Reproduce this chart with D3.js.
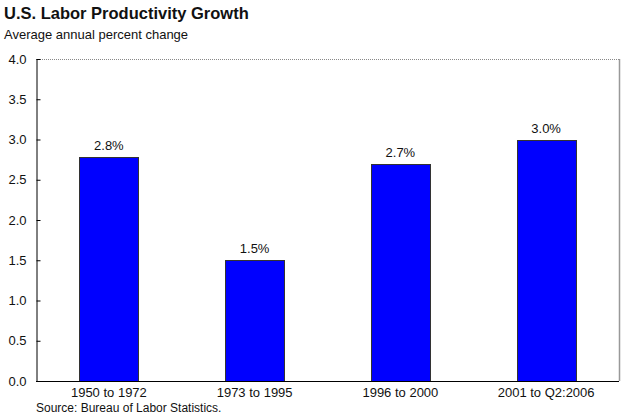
<!DOCTYPE html>
<html>
<head>
<meta charset="utf-8">
<script src="https://cdn.jsdelivr.net/npm/d3@7"></script>
<style>
body{margin:0;background:#fff;}
svg text{font-family:Arial,"Liberation Sans",sans-serif;fill:#111;}
</style>
</head>
<body>
<svg id="c" width="623" height="419"></svg>
<script>
const categories = ["1950 to 1972","1973 to 1995","1996 to 2000","2001 to Q2:2006"];
const values = [2.78, 1.5, 2.7, 3.0];
const valueLabels = ["2.8%","1.5%","2.7%","3.0%"];
const yTicks = [0,0.5,1,1.5,2,2.5,3,3.5,4];

const svg = d3.select("#c");
const L=36, R=619, T=59, B=381;

const x = d3.scaleBand().domain(categories).range([L,R]).paddingInner(0.595).paddingOuter(0.2975);
const y = d3.scaleLinear().domain([0,4]).range([B,T]);

svg.append("text").attr("x",4).attr("y",19).style("font-size","16.5px").style("font-weight","bold").text("U.S. Labor Productivity Growth");
svg.append("text").attr("x",4).attr("y",39).style("font-size","13px").text("Average annual percent change");

// plot border (top dotted, right gray)
svg.append("line").attr("x1",L).attr("x2",R).attr("y1",T+0.5).attr("y2",T+0.5).attr("stroke","#888").attr("stroke-dasharray","1,1");
svg.append("line").attr("x1",R+0.5).attr("x2",R+0.5).attr("y1",T).attr("y2",B).attr("stroke","#999").attr("stroke-width",1.5);

// bars
svg.selectAll("rect.bar").data(values).enter().append("rect")
  .attr("class","bar")
  .attr("x",(d,i)=>Math.round(x(categories[i]))+0.5)
  .attr("y",d=>Math.round(y(d))+0.5)
  .attr("width",Math.round(x.bandwidth()))
  .attr("height",d=>B-Math.round(y(d)))
  .attr("fill","#0000ff").attr("stroke","#333").attr("stroke-width",1);

svg.selectAll("text.vl").data(values).enter().append("text")
  .attr("class","vl")
  .attr("x",(d,i)=>x(categories[i])+x.bandwidth()/2)
  .attr("y",d=>y(d)-7)
  .attr("text-anchor","middle").style("font-size","13px")
  .text((d,i)=>valueLabels[i]);

// y axis
const ya = svg.append("g").attr("transform",`translate(${L+0.5},0)`)
  .call(d3.axisLeft(y).tickValues(yTicks).tickFormat(d3.format(".1f")).tickSizeInner(-4).tickSizeOuter(0).tickPadding(10));
ya.selectAll("text").style("font-size","13px").attr("fill","#111");
ya.selectAll("line,path").attr("stroke","#000");

// x axis
const xa = svg.append("g").attr("transform",`translate(0,${B+0.5})`)
  .call(d3.axisBottom(x).tickSize(0).tickPadding(6));
xa.selectAll("text").style("font-size","13px").attr("fill","#111");
xa.select("path").attr("stroke","#000").attr("d",`M${L},0H${R}`);

svg.append("text").attr("x",36).attr("y",412).style("font-size","12px").text("Source: Bureau of Labor Statistics.");
</script>
</body>
</html>
